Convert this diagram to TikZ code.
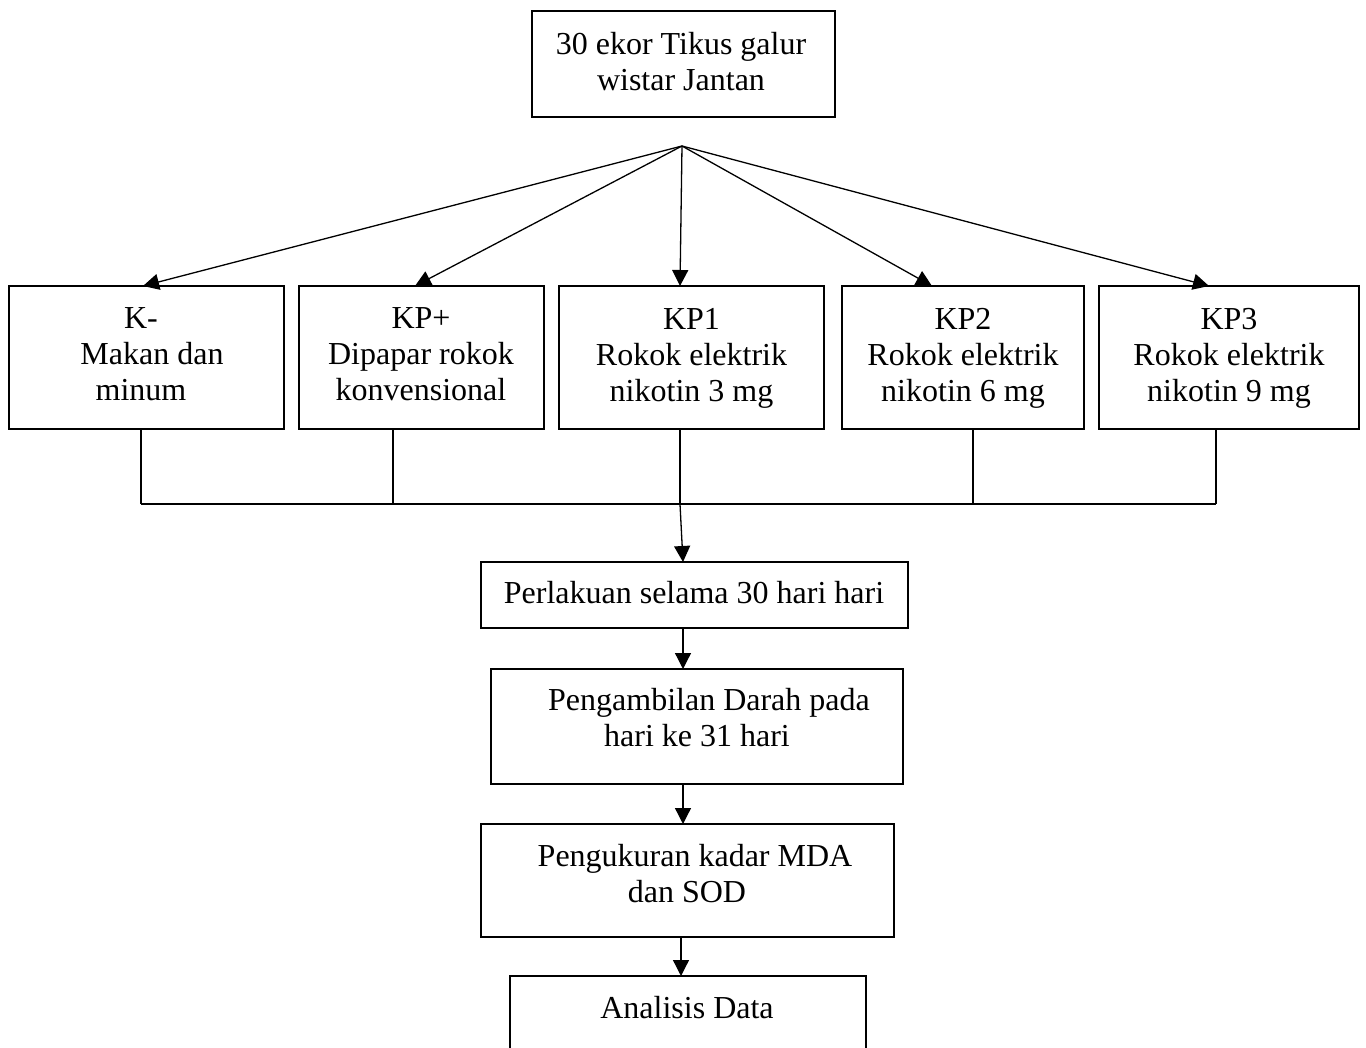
\documentclass[tikz,border=0pt]{standalone}
\usepackage{fontspec}
\setmainfont{Liberation Serif}
\usetikzlibrary{arrows.meta}
\begin{document}
\begin{tikzpicture}[x=1pt,y=-1pt,
  box/.style={draw, line width=1.5pt, inner sep=0pt, outer sep=0pt},
  txt/.style={font=\fontsize{32}{36}\selectfont, align=center, inner sep=0pt},
  conn/.style={line width=1.3pt},
  arr/.style={conn, -{Triangle[length=16pt,width=16pt]}}]
\useasboundingbox (0,0) rectangle (1366,1048);
\clip (0,0) rectangle (1366,1048);
\fill[white] (0,0) rectangle (1366,1048);

% boxes
\node[box, minimum width=303pt, minimum height=106pt] (top) at (683.5,64) {};
\node[box, minimum width=275pt, minimum height=143pt] (kneg) at (146.5,357.5) {};
\node[box, minimum width=245pt, minimum height=143pt] (kpp) at (421.5,357.5) {};
\node[box, minimum width=265pt, minimum height=143pt] (kp1) at (691.5,357.5) {};
\node[box, minimum width=242pt, minimum height=143pt] (kp2) at (963,357.5) {};
\node[box, minimum width=260pt, minimum height=143pt] (kp3) at (1229,357.5) {};
\node[box, minimum width=427pt, minimum height=66pt] (perl) at (694.5,595) {};
\node[box, minimum width=412pt, minimum height=115pt] (ambil) at (697,726.5) {};
\node[box, minimum width=413pt, minimum height=113pt] (ukur) at (687.5,880.5) {};
\node[box, minimum width=356pt, minimum height=104pt] (anal) at (688,1028) {};

% texts
\node[txt] (toptxt) at (681,61.5) {30 ekor Tikus galur\\wistar Jantan};
\node[txt] (knegtxt) at (141,354.4) {K-\\\hspace*{22pt}Makan dan\\minum};
\node[txt] (kpptxt) at (421,354.4) {KP+\\Dipapar rokok\\konvensional};
\node[txt] (kp1txt) at (691.5,357.9) {KP1\\Rokok elektrik\\nikotin 3 mg};
\node[txt] (kp2txt) at (963,357.9) {KP2\\Rokok elektrik\\nikotin 6 mg};
\node[txt] (kp3txt) at (1229,357.9) {KP3\\Rokok elektrik\\nikotin 9 mg};
\node[txt] (perltxt) at (694,593) {Perlakuan selama 30 hari hari};
\node[txt] (ambiltxt) at (697,717.5) {\hspace*{24pt}Pengambilan Darah pada\\hari ke 31 hari};
\node[txt] (ukurtxt) at (687,874) {\hspace*{16pt}Pengukuran kadar MDA\\dan SOD};
\node[txt] (analtxt) at (687,1008) {Analisis Data};

% fan of arrows
\coordinate (apex) at (682,146);
\draw[arr] (apex) -- ([xshift=-3.5pt]kneg.north);
\draw[arr] (apex) -- ([xshift=-6.5pt]kpp.north);
\draw[arr] (apex) -- ([xshift=-11.5pt]kp1.north);
\draw[arr] (apex) -- ([xshift=-31pt]kp2.north);
\draw[arr] (apex) -- ([xshift=-20pt]kp3.north);

% bus
\coordinate (b1) at (141,504);
\coordinate (b2) at (393,504);
\coordinate (b3) at (680,504);
\coordinate (b4) at (973,504);
\coordinate (b5) at (1216,504);
\draw[conn] (kneg.south -| b1) -- (b1);
\draw[conn] (kpp.south -| b2) -- (b2);
\draw[conn] (kp1.south -| b3) -- (b3);
\draw[conn] (kp2.south -| b4) -- (b4);
\draw[conn] (kp3.south -| b5) -- (b5);
\draw[conn] (b1) -- (b5);
\draw[arr] (b3) -- ([xshift=-11.5pt]perl.north);

% vertical chain
\coordinate (vx) at (683,0);
\coordinate (vy) at (681,0);
\draw[arr] (perl.south -| vx) -- (ambil.north -| vx);
\draw[arr] (ambil.south -| vx) -- (ukur.north -| vx);
\draw[arr] (ukur.south -| vy) -- (anal.north -| vy);
\end{tikzpicture}
\end{document}
